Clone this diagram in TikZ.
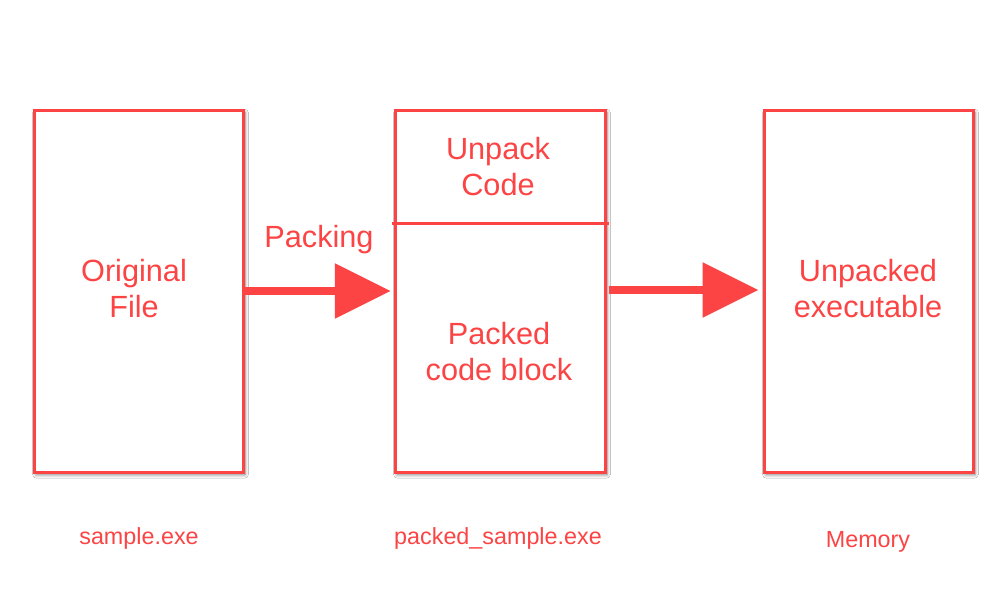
\documentclass[tikz,border=0pt]{standalone}
\usepackage{fontspec}
\setmainfont{Liberation Sans}
\usetikzlibrary{arrows.meta,shadows.blur}
\definecolor{pr}{RGB}{252,68,68}
\begin{document}
\begin{tikzpicture}[x=0.75pt,y=-0.75pt,
 box/.style={draw=pr, line width=2.25pt, fill=white, rectangle, inner sep=0pt,
   blur shadow={shadow xshift=1.5pt, shadow yshift=-2pt, shadow opacity=55, shadow blur radius=2.5pt}},
 big/.style={text=pr, font=\fontsize{23}{27}\selectfont, align=center, inner sep=0pt},
 small/.style={text=pr, font=\fontsize{17.5}{21}\selectfont, inner sep=0pt},
 arr/.style={draw=pr, line width=6pt, -{Triangle[length=42pt,width=40pt]}}]
\useasboundingbox (0,0) rectangle (1000,600);
\fill[white] (0,0) rectangle (1000,600);
% boxes
\node[box, minimum width=156.75pt, minimum height=271.5pt] (orig) at (138.5,291) {};
\node[box, minimum width=157.5pt, minimum height=271.5pt] (mid) at (500,291) {};
\node[box, minimum width=156.75pt, minimum height=271.5pt] (mem) at (868.5,291) {};
% divider
\coordinate (dv) at (500,223);
\draw[draw=pr, line width=2.25pt] ([xshift=-1.5pt]mid.west |- dv) -- ([xshift=1.5pt]mid.east |- dv);
% texts
\node[big] (origt) at (134,289) {Original\\File};
\node[big] (unpack) at (498,167) {Unpack\\Code};
\node[big] (packed) at (499,352) {Packed\\code block};
\node[big] (unpt) at (868,289) {Unpacked\\executable};
\node[big] (packing) at (319,240) {Packing};
% labels
\node[small] (l1) at (139,538) {sample.exe};
\node[small] (l2) at (498,538) {packed\_sample.exe};
\node[small] (l3) at (868,542) {Memory};
% arrows
\draw[arr, shorten >=2pt] (orig.east) -- (mid.west);
\draw[arr, shorten <=2pt, shorten >=3pt] (mid.east |- 0,290) -- (mem.west |- 0,290);
\end{tikzpicture}
\end{document}
